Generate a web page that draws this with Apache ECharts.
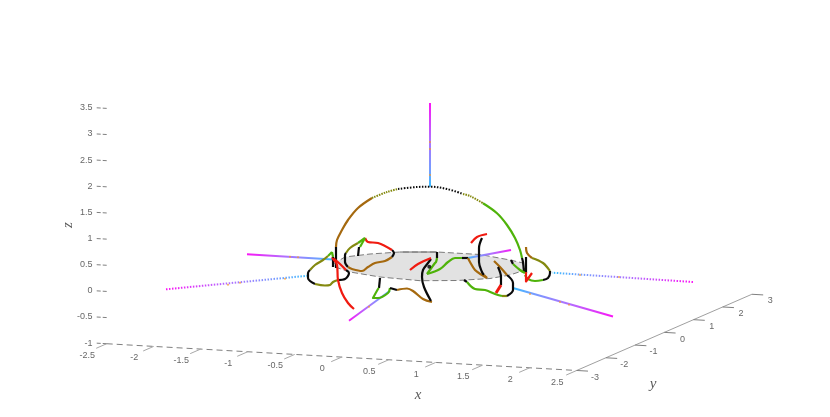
<!DOCTYPE html>
<html>
<head>
<meta charset="utf-8">
<style>
  html, body { margin: 0; padding: 0; background: #fff; }
  #chart { width: 830px; height: 417px; }
</style>
<script src="https://cdn.jsdelivr.net/npm/echarts@6/dist/echarts.min.js"></script>
</head>
<body>
<div id="chart"></div>
<script>
  // tick values of the three axes
  var xTicks = [-2.5, -2, -1.5, -1, -0.5, 0, 0.5, 1, 1.5, 2, 2.5];
  var yTicks = [-3, -2, -1, 0, 1, 2, 3];
  var zTicks = [-1, -0.5, 0, 0.5, 1, 1.5, 2, 2.5, 3, 3.5];

  // curves, in view plane units [u, v]
  var discEdge = [[-97,26],[-85,33],[-60,36],[-30,38],[7,38],[50,35.5],[80,30],[93,27],[95,20],[80,15],[60,11.5],[27,9.5],[-10,9.3],[-50,13],[-80,18],[-95,23],[-97,26]];
  var discEdgeBack = [[-30,38],[7,38]];

  var spokeTop = [[0,187],[0,103.3]];
  var spokeLeftFar = [[-183,35.7],[-97,30.5]];
  var spokeLeftNear = [[-264,0.7],[-122,14.3]];
  var spokeBottom = [[-81,-30.7],[-40,-0.7]];
  var spokeRightBack = [[81,40],[38,32]];
  var spokeRightLow = [[183,-26.5],[83,2]];
  var spokeRightFar = [[263,8],[122,17.3]];
  var spokeMarks = [[0,148],[0,141],[0,115],[-202,5.3],[-190,7.3],[-145,11.3],[-140,33.3],[-132,32.7],[100,-4],[130,-12],[139,-14.7],[-61,-16.7],[189,13],[150,15]];

  var domeBrown = [[-94,43],[-93,50],[-88,60],[-82,70],[-72,82],[-58,92]];
  var domeOlive = [[-58,92],[-43,98],[-32,101]];
  var domeBlack = [[-32,101],[-13,103],[0,103.3],[17,101],[33,96]];
  var domeOliveRight = [[33,96],[40,94],[53,86.7]];
  var domeGreen = [[53,86.7],[67,76.7],[77,65],[85,52],[90,40],[92,32]];
  var domeFootRight = [[92,32],[93,28],[94,18]];
  var domeFootLeft = [[-94,43],[-94,22]];
  var stemRight = [[96,33],[96,17]];

  var lobeLGreen = [[-98,38],[-102,34]];
  var lobeLOlive = [[-102,34],[-107,30],[-115,25],[-120,20]];
  var lobeLBlack = [[-120,20],[-122,17],[-122,12],[-120,9],[-115,6]];
  var lobeLBrown = [[-115,6],[-105,4.5],[-100,5],[-97,8],[-92,10]];
  var lobeLBlack2 = [[-92,10],[-85,11],[-81,17],[-84,20]];
  var lobeLRed = [[-84,20],[-90,26],[-98,33]];
  var lobeLStemGreen = [[-98,38],[-97,33]];
  var lobeLStem = [[-97,33],[-97,23]];
  var tailRed = [[-98,32],[-93,25],[-92,10],[-88,-3],[-82,-13],[-76,-19]];

  var lobeUGreen = [[-65,52],[-72,47]];
  var lobeUOlive = [[-72,47],[-80,42],[-84,37]];
  var lobeUBlack = [[-84,37],[-85,35],[-85,28],[-82,23]];
  var lobeUBrown = [[-82,23],[-78,21],[-68,19],[-62,23],[-55,27],[-45,29],[-38,33]];
  var lobeUBlack2 = [[-38,33],[-36,37],[-38,40]];
  var lobeURed = [[-38,40],[-52,47],[-62,48],[-65,52]];
  var lobeUStemGreen = [[-65,52],[-70,43]];
  var lobeUStem = [[-71,43],[-72,34]];

  var lowBlack = [[-50,12],[-51,2]];
  var lowGreen = [[-51,2],[-52,1],[-57,-8],[-52,-8],[-42,-3],[-40,2]];
  var lowBlack2 = [[-40,2],[-33,0]];
  var lowBrown = [[-33,0],[-23,1.5],[-17,-1],[-7,-9],[2,-12]];
  var lowCrescent = [[1,-11],[-6,3],[-8,13],[-7,20],[-2,27],[1,31]];
  var lowRed = [[-20,20],[-12,26],[1,32]];

  var midBlack = [[7,38],[7,32]];
  var midGreen = [[7,32],[6,28],[5,27],[-3,16]];
  var midGreen2 = [[-3,16],[10,21],[18,28],[25,32],[32,32]];
  var midBlack2 = [[32,32],[38,32]];
  var midBrown = [[38,32],[40,28],[45,20],[52,15],[57,12]];
  var crescentRed = [[41,47],[47,53],[57,56]];
  var crescentBlack = [[52,52],[49,42],[49,28],[52,18],[54,15]];
  var crescentBrown = [[54,15],[57,12]];

  var lobeLowBlack = [[34,10],[37,8]];
  var lobeLowGreen = [[37,8],[45,1],[55,0],[65,-4],[72,-6]];
  var lobeLowOlive = [[72,-6],[77,-6]];
  var lobeLowBlack2 = [[77,-6],[83,0],[83,7],[77,15]];
  var lobeLowBrown = [[77,15],[70,23],[64,29]];
  var lobeLowStem = [[68,23],[71,13],[71,5]];
  var lobeLowRed = [[71,5],[66,-3]];

  var lobeRBrown = [[96,43],[97,37],[102,32]];
  var lobeROlive = [[102,32],[113,27],[120,19]];
  var lobeRBlack = [[120,19],[120,17],[118,12],[113,10]];
  var lobeRGreen = [[113,10],[105,9],[98,11],[95,15]];
  var lobeRRed = [[96,18],[96,8.5],[102,17]];
  var lobeRStem = [[81,30],[83,26]];
  var lobeRStemGreen = [[83,26],[90,20],[95,17]];

  var xTitlePoint = [-12,-105];
  var yTitlePoint = [223,-94];
  var zTitlePoint = [-362,65];

  var BLACK = '#0a0a0a', RED = '#f01a10', GREEN = '#4fb30a', OLIVE = '#84890f', BROWN = '#a5690f';

  // linear view of the 3d axes box
  function project(x, y, z) {
    return [94 * x + 29.2 * y - 0.7, -5.35 * x + 12.7 * y + 52.3 * z + 23.3];
  }

  function curve(data, color, width, dash) {
    return {
      type: 'line',
      data: data,
      smooth: 0.35,
      showSymbol: false,
      silent: true,
      z: 5,
      lineStyle: { color: color, width: width || 2.2, type: dash || 'solid', cap: 'butt', join: 'round' }
    };
  }

  function spoke(data, dash) {
    // first point is the far (magenta) end, gradient runs along the line
    var a = data[0], b = data[1];
    var grad = new echarts.graphic.LinearGradient(
      a[0] < b[0] ? 0 : a[0] > b[0] ? 1 : 0,
      a[1] > b[1] ? 0 : 1,
      a[0] < b[0] ? 1 : a[0] > b[0] ? 0 : 0,
      a[1] > b[1] ? 1 : 0,
      [{ offset: 0, color: '#ff10f5' }, { offset: 0.45, color: '#b070ff' }, { offset: 0.8, color: '#70a0ff' }, { offset: 1, color: '#30c0ff' }]
    );
    var s = curve(data, grad, 2, dash);
    s.smooth = false;
    s.z = 4;
    return s;
  }

  function axisLine(data, color, dash) {
    return {
      type: 'line',
      data: data,
      showSymbol: false,
      silent: true,
      z: 1,
      lineStyle: { color: color, width: 1, type: dash || 'solid' }
    };
  }

  function tickLabels(points, labels, dx, dy, align) {
    return {
      type: 'scatter',
      symbolSize: 0,
      silent: true,
      z: 2,
      data: points.map(function (p, i) {
        return {
          value: p,
          label: {
            show: true,
            position: 'inside',
            formatter: String(labels[i]),
            align: align || 'center',
            verticalAlign: 'middle',
            offset: [dx, dy],
            color: '#404040',
            fontSize: 9,
            fontFamily: 'Liberation Sans'
          }
        };
      })
    };
  }

  function axisTitle(point, text, rotate) {
    return {
      type: 'scatter',
      symbolSize: 0,
      silent: true,
      z: 2,
      data: [{
        value: point,
        label: {
          show: true,
          position: 'inside',
          formatter: text,
          rotate: rotate || 0,
          color: '#303030',
          fontSize: 15,
          fontStyle: 'italic',
          fontFamily: 'Liberation Serif'
        }
      }]
    };
  }

  var series = [];

  // axes box
  series.push(axisLine([project(-2.5, -3, -1), project(2.5, -3, -1)], '#808080', [6, 4]));
  series.push(axisLine([project(2.5, -3, -1), project(2.5, 3, -1)], '#a0a0a0'));
  xTicks.forEach(function (t) {
    series.push(axisLine([project(t, -3, -1), project(t, -3.36, -1)], '#a8a8a8'));
  });
  yTicks.forEach(function (t) {
    series.push(axisLine([project(2.5, t, -1), project(2.62, t, -1)], '#808080'));
  });
  zTicks.forEach(function (t) {
    series.push(axisLine([project(-2.5, -3, t), project(-2.62, -3, t)], '#808080', [4, 2]));
  });
  series.push(tickLabels(xTicks.map(function (t) { return project(t, -3.36, -1); }), xTicks, -9, 7));
  series.push(tickLabels(yTicks.map(function (t) { return project(2.62, t, -1); }), yTicks, 7, 6));
  series.push(tickLabels(zTicks.map(function (t) { return project(-2.62, -3, t); }), zTicks, -3, 0, 'right'));
  series.push(axisTitle(xTitlePoint, 'x'));
  series.push(axisTitle(yTitlePoint, 'y'));
  series.push(axisTitle(zTitlePoint, 'z', 90));

  // disc
  series.push({
    type: 'custom',
    silent: true,
    z: 2,
    data: discEdge,
    renderItem: function (params, api) {
      if (params.dataIndex !== 0) return null;
      return {
        type: 'polygon',
        shape: { points: discEdge.map(function (p) { return api.coord(p); }) },
        style: { fill: '#e2e2e2' }
      };
    }
  });
  var edge = curve(discEdge, '#7c7c7c', 1, [6, 3]);
  edge.smooth = false;
  edge.z = 3;
  series.push(edge);
  var edgeBack = curve(discEdgeBack, '#6e6e6e', 1);
  edgeBack.smooth = false;
  edgeBack.z = 3;
  series.push(edgeBack);

  // spokes
  series.push(spoke(spokeTop));
  series.push(spoke(spokeLeftFar));
  series.push(spoke(spokeLeftNear, [1.5, 1.5]));
  series.push(spoke(spokeBottom));
  series.push(spoke(spokeRightBack));
  series.push(spoke(spokeRightLow));
  series.push(spoke(spokeRightFar, [1.5, 1.5]));
  series.push({
    type: 'scatter',
    data: spokeMarks,
    symbolSize: 2,
    silent: true,
    z: 6,
    itemStyle: { color: '#f59a30' }
  });

  // dome and lobes
  [
    [domeBrown, BROWN], [domeOlive, OLIVE, 2, [1.5, 1]], [domeBlack, BLACK, 2, [1.5, 1.5]],
    [domeOliveRight, OLIVE, 2, [1.5, 1]], [domeGreen, GREEN], [domeFootRight, BLACK], [domeFootLeft, BLACK], [stemRight, BLACK],
    [lobeLGreen, GREEN], [lobeLOlive, OLIVE], [lobeLBlack, BLACK], [lobeLBrown, OLIVE], [lobeLBlack2, BLACK],
    [lobeLRed, RED], [lobeLStemGreen, GREEN], [lobeLStem, BLACK], [tailRed, RED],
    [lobeUGreen, GREEN], [lobeUOlive, OLIVE], [lobeUBlack, BLACK], [lobeUBrown, BROWN], [lobeUBlack2, BLACK],
    [lobeURed, RED], [lobeUStemGreen, GREEN], [lobeUStem, BLACK],
    [lowBlack, BLACK], [lowGreen, GREEN], [lowBlack2, BLACK], [lowBrown, BROWN], [lowCrescent, BLACK], [lowRed, RED],
    [midBlack, BLACK], [midGreen, GREEN], [midGreen2, GREEN], [midBlack2, BLACK], [midBrown, BROWN],
    [crescentRed, RED], [crescentBlack, BLACK], [crescentBrown, BROWN],
    [lobeLowBlack, BLACK], [lobeLowGreen, GREEN], [lobeLowOlive, OLIVE], [lobeLowBlack2, BLACK], [lobeLowBrown, BROWN],
    [lobeLowStem, BLACK], [lobeLowRed, RED, 3],
    [lobeRBrown, BROWN], [lobeROlive, OLIVE], [lobeRBlack, BLACK], [lobeRGreen, GREEN], [lobeRRed, RED],
    [lobeRStem, BLACK], [lobeRStemGreen, GREEN]
  ].forEach(function (c) {
    series.push(curve(c[0], c[1], c[2], c[3]));
  });

  // origin dot
  series.push({
    type: 'scatter',
    data: [project(0, 0, 0)],
    symbolSize: 4,
    silent: true,
    z: 7,
    itemStyle: { color: '#000' }
  });

  var chart = echarts.init(document.getElementById('chart'));
  chart.setOption({
    animation: false,
    backgroundColor: '#fff',
    grid: { left: 0, right: 0, top: 0, bottom: 0 },
    xAxis: { type: 'value', min: -430, max: 400, show: false },
    yAxis: { type: 'value', min: -127, max: 290, show: false },
    series: series
  });
</script>
</body>
</html>
